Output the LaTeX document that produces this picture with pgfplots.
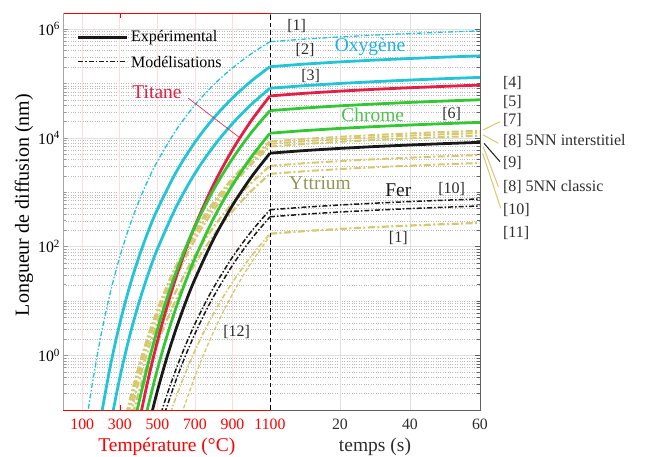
\documentclass[border=0pt]{standalone}
\usepackage{pgfplots}
\pgfplotsset{compat=1.18}
\usepackage{fontspec}
\setmainfont{Liberation Serif}
\definecolor{cyanc}{RGB}{34,197,214}
\definecolor{redc}{RGB}{228,30,68}
\definecolor{greenc}{RGB}{52,199,52}
\definecolor{yelc}{RGB}{214,200,112}
\definecolor{blkc}{RGB}{25,25,25}
\definecolor{oxyt}{RGB}{30,178,228}
\definecolor{chrt}{RGB}{78,196,78}
\definecolor{yttt}{RGB}{150,148,88}
\definecolor{titt}{RGB}{228,30,68}
\definecolor{spinec}{RGB}{95,95,95}
\definecolor{labc}{RGB}{45,45,45}
\newcommand\af{\fontsize{16}{18}\selectfont}
\newcommand\bgf{\fontsize{19.5}{21}\selectfont}
\tikzset{
  sol/.style={line width=2.8pt},
  ddthin/.style={dash pattern=on 5pt off 2pt on 1.5pt off 2pt},
  ddthick/.style={dash pattern=on 7pt off 2.5pt on 2pt off 2.5pt},
}
\begin{document}
\begin{tikzpicture}
\useasboundingbox (-63.5pt,-47pt) rectangle (582.5pt,410pt);
% ---------------- temperature part
\begin{axis}[scale only axis, height=397pt, width=206.5pt, at={(0pt,0pt)}, anchor=south west,
    ymode=log, ymin=0.1, ymax=1.97e6,
    xmin=0, xmax=1100,
    axis line style={draw=none},
    clip mode=individual,
    ymajorgrids, yminorgrids,
    major grid style={gray!25, line width=0.7pt, solid},
    minor grid style={gray!55, dotted, line width=0.5pt},
    ytick={1,100,10000,1000000},
    minor ytick={0.2,0.3,0.4,0.5,0.6,0.7,0.8,0.9,2,3,4,5,6,7,8,9,10,20,30,40,50,60,70,80,90,200,300,400,500,600,700,800,900,1000,2000,3000,4000,5000,6000,7000,8000,9000,20000,30000,40000,50000,60000,70000,80000,90000,100000,200000,300000,400000,500000,600000,700000,800000,900000},
    tick label style={font=\fontsize{15.8}{17}\selectfont},
    major tick length=5pt, minor tick length=2.8pt,
    tick align=inside,
  xtick={100,300,500,700,900,1100},
  xticklabels={100,300,500,700,900,1100},
  xticklabel style={red, yshift=-5pt},
  xtick style={red, line width=0.6pt},
  ytick style={gray!80, line width=0.6pt},
  ytick pos=left,
  yticklabels={10\textsuperscript{0},10\textsuperscript{2},10\textsuperscript{4},10\textsuperscript{6}},
  yticklabel style={black},
]
\pgfplotsinvokeforeach{100,300,500,700,900}{\draw[red!14, line width=0.7pt] (axis cs:#1,0.1) -- (axis cs:#1,1.97e6);}
% Oxygen [1]
\addplot[cyanc, line width=1.3pt, ddthin, smooth] coordinates {(125,0.068)(150,0.256)(200,2.399)(250,14.66)(300,65.2)(350,228.6)(400,663.7)(450,1667)(500,3707)(600,13960)(700,40090)(800,94620)(900,192300)(1000,350800)(1100,584800)};
% Oxygen [2]
\addplot[cyanc, sol, smooth] coordinates {(200,0.0754)(250,0.655)(300,3.89)(350,17.38)(400,62.1)(450,186.2)(500,484.2)(600,2355)(700,8300)(800,23070)(900,53950)(1000,110400)(1100,203200)};
% Oxygen [3]
\addplot[cyanc, sol, smooth] coordinates {(255,0.0655)(300,0.393)(350,2.118)(400,8.91)(450,30.7)(500,90.2)(600,537)(700,2218)(800,7031)(900,18280)(1000,41020)(1100,81660)};
% Yttrium thick
\addplot[yelc, line width=2.2pt, ddthick, smooth] coordinates {(335,0.0845)(350,0.139)(400,0.622)(450,2.265)(500,6.98)(550,18.75)(600,44.98)(700,198.2)(800,660.7)(900,1795)(1000,4169)(1100,8551)};
\addplot[yelc, line width=2.2pt, ddthick, smooth] coordinates {(345,0.0847)(350,0.100)(400,0.462)(450,1.730)(500,5.458)(550,14.96)(600,36.56)(700,166.0)(800,568.2)(900,1574)(1000,3724)(1100,7762)};
\addplot[yelc, line width=2.2pt, ddthick, smooth] coordinates {(355,0.079)(400,0.322)(450,1.247)(500,4.046)(550,11.40)(600,28.44)(700,134.3)(800,474.2)(900,1349)(1000,3258)(1100,6918)};
\addplot[yelc, line width=2.2pt, ddthick, smooth] coordinates {(370,0.086)(400,0.2065)(450,0.760)(500,2.360)(550,6.40)(600,15.45)(700,68.9)(800,231.7)(900,634)(1000,1483)(1100,3062)};
\addplot[yelc, line width=2.2pt, ddthick, smooth] coordinates {(383,0.0865)(400,0.141)(450,0.522)(500,1.629)(550,4.436)(600,10.76)(700,48.2)(800,163.3)(900,448.7)(1000,1054)(1100,2183)};
% Titanium
\addplot[redc, sol, smooth] coordinates {(410,0.079)(450,0.351)(500,1.816)(550,7.69)(600,27.6)(650,86.5)(700,240.4)(800,1400)(900,6026)(1000,20630)(1100,59020)};
% Chromium
\addplot[greenc, sol, smooth] coordinates {(385,0.074)(400,0.129)(450,0.695)(500,3.006)(550,10.89)(600,34.1)(650,94.3)(700,235)(800,1127)(900,4140)(1000,12420)(1100,31700)};
\addplot[greenc, sol, smooth] coordinates {(440,0.081)(450,0.1146)(500,0.556)(550,2.234)(600,7.64)(650,22.9)(700,61.4)(800,333.4)(900,1357)(1000,4436)(1100,12190)};
% Experimental (black)
\addplot[blkc, sol, smooth] coordinates {(468,0.082)(500,0.223)(550,0.904)(600,3.119)(650,9.42)(700,25.35)(800,139.6)(900,574.1)(1000,1892)(1100,5236)};
% Iron
\addplot[blkc, line width=1.5pt, ddthin, smooth] coordinates {(520,0.088)(550,0.185)(600,0.5675)(650,1.549)(700,3.80)(750,8.55)(800,17.86)(900,64.3)(1000,189.7)(1100,477.5)};
\addplot[blkc, line width=1.5pt, ddthin, smooth] coordinates {(540,0.088)(550,0.113)(600,0.357)(650,0.998)(700,2.506)(750,5.75)(800,12.25)(900,45.5)(1000,137.7)(1100,354.8)};
% Yttrium thin [1], [12]
\addplot[yelc, line width=1.6pt, ddthin, smooth] coordinates {(570,0.089)(600,0.1746)(650,0.4875)(700,1.225)(750,2.812)(800,5.97)(850,11.87)(900,22.2)(1000,67.3)(1100,173.4)};
\addplot[yelc, line width=1.3pt, dash pattern=on 4pt off 2pt, smooth] coordinates {(630,0.0844)(650,0.136)(700,0.412)(750,1.117)(800,2.767)(850,6.31)(900,13.41)(950,26.85)(1000,50.8)(1100,158.5)};
\draw[red, line width=0.8pt] (rel axis cs:0,0) -- (rel axis cs:1,0);
\draw[red, line width=0.8pt] (rel axis cs:0,1) -- (rel axis cs:1,1);
\draw[gray!70, line width=0.8pt] (rel axis cs:0,0) -- (rel axis cs:0,1);
\end{axis}
% ---------------- time part
\begin{axis}[scale only axis, height=397pt, width=210pt, at={(206.5pt,0pt)}, anchor=south west,
    ymode=log, ymin=0.1, ymax=1.97e6,
    xmin=0, xmax=60,
    axis line style={draw=none},
    clip mode=individual,
    ymajorgrids, yminorgrids,
    major grid style={gray!25, line width=0.7pt, solid},
    minor grid style={gray!55, dotted, line width=0.5pt},
    ytick={1,100,10000,1000000},
    minor ytick={0.2,0.3,0.4,0.5,0.6,0.7,0.8,0.9,2,3,4,5,6,7,8,9,10,20,30,40,50,60,70,80,90,200,300,400,500,600,700,800,900,1000,2000,3000,4000,5000,6000,7000,8000,9000,20000,30000,40000,50000,60000,70000,80000,90000,100000,200000,300000,400000,500000,600000,700000,800000,900000},
    tick label style={font=\fontsize{15.8}{17}\selectfont},
    major tick length=5pt, minor tick length=2.8pt,
    tick align=inside,
  xtick={0,20,40,60},
  xticklabels={,20,40,60},
  xticklabel style={labc, yshift=-5pt},
  xtick style={spinec, line width=0.6pt},
  ytick style={spinec, line width=0.6pt},
  ytick pos=right,
  yticklabels={},
]
\pgfplotsinvokeforeach{20,40}{\draw[gray!25, line width=0.7pt] (axis cs:#1,0.1) -- (axis cs:#1,1.97e6);}
\addplot[cyanc, line width=1.3pt, ddthin] coordinates {(0,584800)(10,653800)(20,716200)(30,773600)(40,827000)(50,877200)(60,924600)};
\addplot[cyanc, sol] coordinates {(0,203200)(10,227200)(20,248900)(30,268800)(40,287400)(50,304800)(60,321300)};
\addplot[cyanc, sol] coordinates {(0,81660)(10,91300)(20,100000)(30,108000)(40,115500)(50,122500)(60,129100)};
\addplot[redc, sol] coordinates {(0,59020)(10,65980)(20,72280)(30,78080)(40,83470)(50,88530)(60,93320)};
\addplot[greenc, sol] coordinates {(0,31700)(10,35440)(20,38820)(30,41940)(40,44830)(50,47550)(60,50120)};
\addplot[greenc, sol] coordinates {(0,12190)(10,13630)(20,14930)(30,16130)(40,17240)(50,18290)(60,19270)};
\addplot[yelc, line width=2pt, ddthick] coordinates {(0,8551)(10,9560)(20,10470)(30,11310)(40,12090)(50,12830)(60,13520)};
\addplot[yelc, line width=2pt, ddthick] coordinates {(0,7762)(10,8678)(20,9506)(30,10270)(40,10980)(50,11640)(60,12270)};
\addplot[yelc, line width=2pt, ddthick] coordinates {(0,6918)(10,7734)(20,8472)(30,9152)(40,9783)(50,10380)(60,10940)};
\addplot[blkc, sol] coordinates {(0,5236)(10,5854)(20,6413)(30,6927)(40,7405)(50,7854)(60,8279)};
\addplot[yelc, line width=2pt, ddthick] coordinates {(0,3062)(10,3423)(20,3750)(30,4051)(40,4330)(50,4593)(60,4841)};
\addplot[yelc, line width=2pt, ddthick] coordinates {(0,2183)(10,2441)(20,2674)(30,2888)(40,3087)(50,3275)(60,3452)};
\addplot[blkc, line width=1.5pt, ddthin] coordinates {(0,477.5)(10,533.8)(20,584.8)(30,631.7)(40,675.3)(50,716.3)(60,755.0)};
\addplot[blkc, line width=1.5pt, ddthin] coordinates {(0,354.8)(10,396.7)(20,434.5)(30,469.4)(40,501.8)(50,532.2)(60,561.0)};
\addplot[yelc, line width=2.2pt, ddthick] coordinates {(0,173.4)(10,193.9)(20,212.4)(30,229.4)(40,245.2)(50,260.1)(60,274.2)};
\draw[spinec, line width=0.8pt] (rel axis cs:0,0) -- (rel axis cs:1,0) -- (rel axis cs:1,1) -- (rel axis cs:0,1);
\draw[black, line width=0.9pt, dash pattern=on 4.5pt off 3pt] (rel axis cs:0,0) -- (rel axis cs:0,1);
\end{axis}
\begin{scope}[x=1pt,y=1pt]
% ---------------- axis labels
\node[rotate=90, font=\fontsize{20}{22}\selectfont] at (-39.5,205) {Longueur de diffusion (nm)};
\node[red, font=\fontsize{19.5}{21}\selectfont] at (103.3,-36.5) {Température (°C)};
\node[labc, font=\fontsize{19.5}{21}\selectfont] at (311.5,-36.5) {temps (s)};
% ---------------- legend
\draw[blkc, line width=3pt] (14.5,372.7) -- (63.5,372.7);
\node[anchor=west, font=\af] at (64,372.7) {Expérimental};
\draw[blkc, line width=1.5pt, ddthin] (14.5,348.3) -- (63.5,348.3);
\node[anchor=west, font=\af] at (64,348.3) {Modélisations};
% ---------------- annotations
\node[labc, font=\af] at (233.2,384) {[1]};
\node[labc, font=\af] at (241.5,360) {[2]};
\node[oxyt, font=\bgf] at (306.5,363.3) {Oxygène};
\node[labc, font=\af] at (247.2,334) {[3]};
\node[titt, font=\bgf] at (93.5,318) {Titane};
\draw[titt, line width=0.6pt] (124.5,312) -- (176.5,272);
\node[labc, font=\af] at (388.2,296) {[6]};
\node[chrt, font=\bgf] at (309.2,295) {Chrome};
\node[yttt, font=\bgf] at (256.5,227.3) {Yttrium};
\node[blkc, font=\bgf] at (334.8,219.3) {Fer};
\node[labc, font=\af] at (388.2,220.7) {[10]};
\node[labc, font=\af] at (334.8,171.7) {[1]};
\node[labc, font=\af] at (173.2,78.3) {[12]};
% right side
\node[labc, font=\af, anchor=west] at (436,326.7) {[4]};
\node[labc, font=\af, anchor=west] at (436,308.3) {[5]};
\node[labc, font=\af, anchor=west] at (436,290) {[7]};
\node[labc, font=\af, anchor=west] at (436,269.3) {[8] 5NN interstitiel};
\node[labc, font=\af, anchor=west] at (436,246.7) {[9]};
\node[labc, font=\af, anchor=west] at (436,223.3) {[8] 5NN classic};
\node[labc, font=\af, anchor=west] at (436,200) {[10]};
\node[labc, font=\af, anchor=west] at (436,176.7) {[11]};
\draw[yelc, line width=1pt] (419.8,280) -- (436.5,288.3);
\draw[yelc, line width=1pt] (419.8,275) -- (434.8,266.7);
\draw[blkc, line width=1pt] (420.5,266.7) -- (436.5,248.3);
\draw[yelc, line width=1pt] (419.8,263.3) -- (434.8,223.3);
\draw[yelc, line width=1pt] (419.2,256.7) -- (437.2,201.7);
\end{scope}
\end{tikzpicture}
\end{document}
